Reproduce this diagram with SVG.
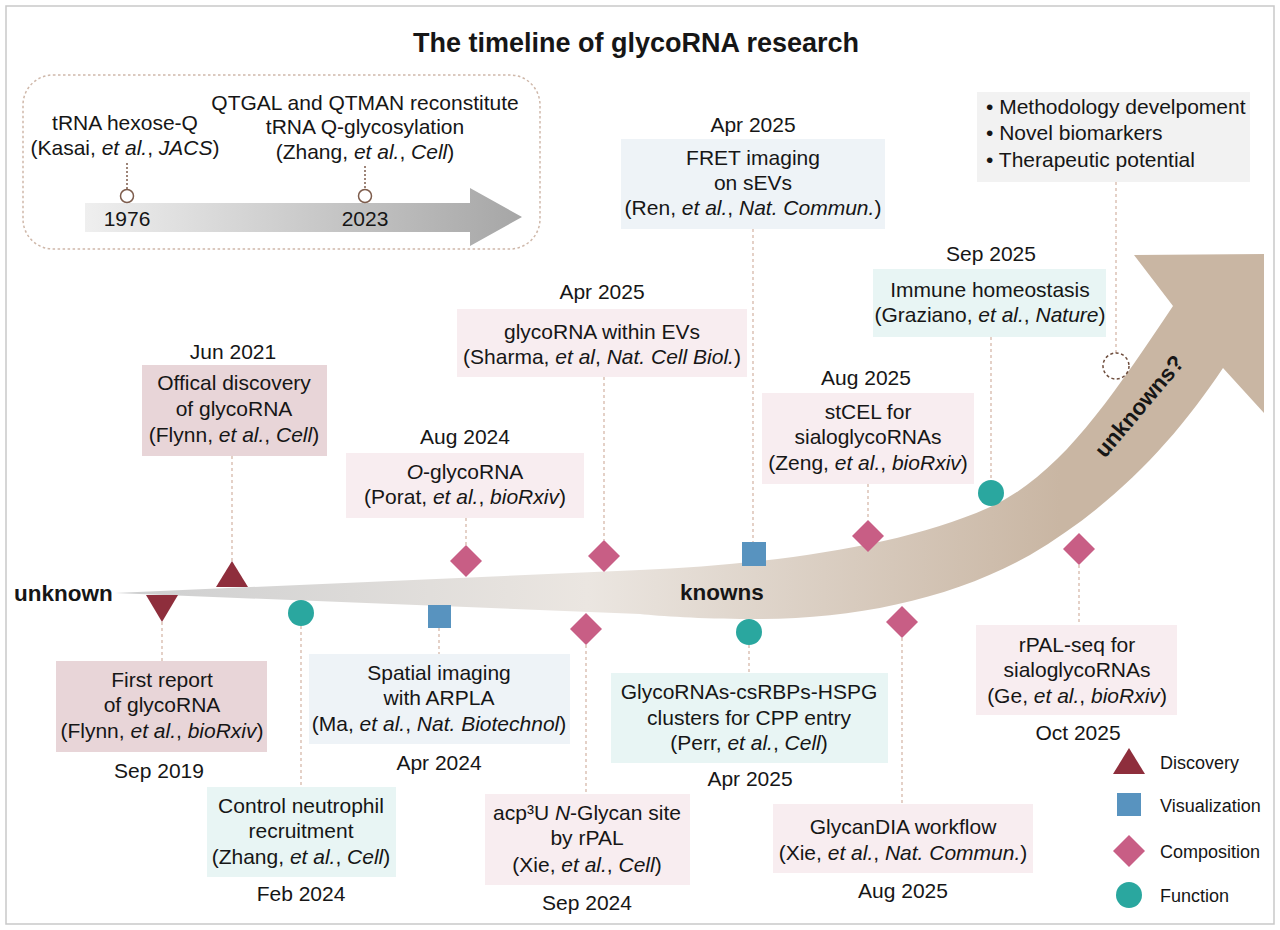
<svg xmlns="http://www.w3.org/2000/svg" width="1280" height="930" viewBox="0 0 1280 930">
<style>
.t{font-family:"Liberation Sans",Arial,sans-serif;font-size:21px;fill:#161616;text-anchor:middle}
.l{font-family:"Liberation Sans",Arial,sans-serif;font-size:21px;fill:#161616}
.lg{font-family:"Liberation Sans",Arial,sans-serif;font-size:18px;fill:#161616}
.b{font-weight:bold}
.i{font-style:italic}
.bx-d{fill:#e8d5d8}
.bx-c{fill:#f8edf0}
.bx-v{fill:#eef3f7}
.bx-f{fill:#e8f5f4}
.bx-g{fill:#f2f2f2}
.dash{stroke:#d6b8aa;stroke-width:1.3;stroke-dasharray:3 3;fill:none}
.dot{stroke:#7d5c4c;stroke-width:1.5;stroke-dasharray:2 2;fill:none}
.m-d{fill:#8e2e3c}
.m-v{fill:#5893bf}
.m-c{fill:#c85e85}
.m-f{fill:#2aa79f}
</style>
<defs>
<linearGradient id="gBig" gradientUnits="userSpaceOnUse" x1="115" y1="0" x2="1060" y2="0">
<stop offset="0" stop-color="#cdcecf"/>
<stop offset="0.5" stop-color="#ebe6e1"/>
<stop offset="1" stop-color="#c9b6a3"/>
</linearGradient>
<linearGradient id="gSmall" gradientUnits="userSpaceOnUse" x1="85" y1="0" x2="522" y2="0">
<stop offset="0" stop-color="#efefef"/>
<stop offset="1" stop-color="#a6a6a6"/>
</linearGradient>
</defs>
<rect x="6" y="6" width="1268" height="918" fill="#ffffff" stroke="#c9c9c9" stroke-width="1.5"/>
<text class="t b" x="636" y="52" style="font-size:27px">The timeline of glycoRNA research</text>

<g id="inset">
<rect x="23" y="75" width="517" height="174" rx="30" fill="none" stroke="#cfb8aa" stroke-width="1.5" stroke-dasharray="2.5 2.5"/>
<path d="M85,203 L470,203 L470,188 L522,217 L470,246 L470,232 L85,232 Z" fill="url(#gSmall)"/>
<g id="inset-1976">
<text class="t" x="125" y="130">tRNA hexose-Q</text>
<text class="t" x="125" y="155">(Kasai, <tspan class="i">et al.</tspan>, <tspan class="i">JACS</tspan>)</text>
<line class="dot" x1="127" y1="163" x2="127" y2="189"/>
<circle cx="127" cy="196" r="6.5" fill="#fff" stroke="#7d5c4c" stroke-width="1.5"/>
<text class="t" x="127" y="226">1976</text>
</g>
<g id="inset-2023">
<text class="t" x="365" y="110">QTGAL and QTMAN reconstitute</text>
<text class="t" x="365" y="134">tRNA Q-glycosylation</text>
<text class="t" x="365" y="159">(Zhang, <tspan class="i">et al.</tspan>, <tspan class="i">Cell</tspan>)</text>
<line class="dot" x1="365" y1="166" x2="365" y2="189"/>
<circle cx="365" cy="196" r="6.5" fill="#fff" stroke="#7d5c4c" stroke-width="1.5"/>
<text class="t" x="365" y="226">2023</text>
</g>
</g>

<g id="main-arrow">
<path d="M115,593 L640,570 C760,565 900,548 990,507 C1060,475 1110,400 1173,306 L1134,255 L1264,254 L1264,413 L1223,368 C1175,440 1115,505 1030,555 C950,600 850,620 750,619 C700,619 660,616 640,614 Z" fill="url(#gBig)"/>
<text class="l b" x="14" y="601" style="font-size:22.5px">unknown</text>
<text class="l b" x="680" y="600" style="font-size:22.5px">knowns</text>
<text class="t b" transform="translate(1139,406) rotate(-50)" x="0" y="8" style="font-size:22.5px">unknowns?</text>
</g>

<g id="connectors">
<line class="dash" x1="232" y1="456" x2="232" y2="561"/>
<line class="dash" x1="162" y1="622" x2="162" y2="661"/>
<line class="dash" x1="301" y1="626" x2="301" y2="787"/>
<line class="dash" x1="439" y1="628" x2="439" y2="654"/>
<line class="dash" x1="466" y1="518" x2="466" y2="545"/>
<line class="dash" x1="586" y1="645" x2="586" y2="794"/>
<line class="dash" x1="604" y1="377" x2="604" y2="540"/>
<line class="dash" x1="753" y1="229" x2="753" y2="542"/>
<line class="dash" x1="749" y1="645" x2="749" y2="673"/>
<line class="dash" x1="868" y1="484" x2="868" y2="520"/>
<line class="dash" x1="902" y1="638" x2="902" y2="804"/>
<line class="dash" x1="991" y1="337" x2="991" y2="480"/>
<line class="dash" x1="1079" y1="565" x2="1079" y2="625"/>
<line class="dash" x1="1116" y1="182" x2="1116" y2="353"/>
</g>

<g id="n-jun2021">
<text class="t" x="233" y="359">Jun 2021</text>
<rect class="bx-d" x="142" y="365" width="185" height="91"/>
<text class="t" x="234" y="390">Offical discovery</text>
<text class="t" x="234" y="416">of glycoRNA</text>
<text class="t" x="234" y="442">(Flynn, <tspan class="i">et al.</tspan>, <tspan class="i">Cell</tspan>)</text>
<polygon class="m-d" points="232,561 248,587 216,587"/>
</g>

<g id="n-sep2019">
<polygon class="m-d" points="146,595 178,595 162,622"/>
<rect class="bx-d" x="56" y="661" width="211" height="91"/>
<text class="t" x="162" y="687">First report</text>
<text class="t" x="162" y="712">of glycoRNA</text>
<text class="t" x="162" y="738">(Flynn, <tspan class="i">et al.</tspan>, <tspan class="i">bioRxiv</tspan>)</text>
<text class="t" x="159" y="778">Sep 2019</text>
</g>

<g id="n-feb2024">
<circle class="m-f" cx="301" cy="613" r="13"/>
<rect class="bx-f" x="207" y="787" width="189" height="90"/>
<text class="t" x="301" y="813">Control neutrophil</text>
<text class="t" x="301" y="838">recruitment</text>
<text class="t" x="301" y="864">(Zhang, <tspan class="i">et al.</tspan>, <tspan class="i">Cell</tspan>)</text>
<text class="t" x="301" y="901">Feb 2024</text>
</g>

<g id="n-apr2024">
<rect class="m-v" x="428" y="605" width="23" height="23"/>
<rect class="bx-v" x="309" y="654" width="261" height="90"/>
<text class="t" x="439" y="680">Spatial imaging</text>
<text class="t" x="439" y="705">with ARPLA</text>
<text class="t" x="439" y="731">(Ma, <tspan class="i">et al.</tspan>, <tspan class="i">Nat. Biotechnol</tspan>)</text>
<text class="t" x="439" y="770">Apr 2024</text>
</g>

<g id="n-aug2024">
<text class="t" x="465" y="444">Aug 2024</text>
<rect class="bx-c" x="346" y="453" width="238" height="65"/>
<text class="t" x="465" y="479"><tspan class="i">O</tspan>-glycoRNA</text>
<text class="t" x="465" y="504">(Porat, <tspan class="i">et al.</tspan>, <tspan class="i">bioRxiv</tspan>)</text>
<polygon class="m-c" points="466,545 482,561 466,577 450,561"/>
</g>

<g id="n-sep2024">
<polygon class="m-c" points="586,613 602,629 586,645 570,629"/>
<rect class="bx-c" x="485" y="794" width="205" height="91"/>
<text class="t" x="587" y="820">acp³U <tspan class="i">N</tspan>-Glycan site</text>
<text class="t" x="587" y="845">by rPAL</text>
<text class="t" x="587" y="872">(Xie, <tspan class="i">et al.</tspan>, <tspan class="i">Cell</tspan>)</text>
<text class="t" x="587" y="910">Sep 2024</text>
</g>

<g id="n-apr2025-evs">
<text class="t" x="602" y="299">Apr 2025</text>
<rect class="bx-c" x="457" y="309" width="290" height="68"/>
<text class="t" x="602" y="339">glycoRNA within EVs</text>
<text class="t" x="602" y="364">(Sharma, <tspan class="i">et al</tspan>, <tspan class="i">Nat. Cell Biol.</tspan>)</text>
<polygon class="m-c" points="604,540 620,556 604,572 588,556"/>
</g>

<g id="n-apr2025-fret">
<text class="t" x="753" y="132">Apr 2025</text>
<rect class="bx-v" x="621" y="139" width="264" height="90"/>
<text class="t" x="753" y="165">FRET imaging</text>
<text class="t" x="753" y="190">on sEVs</text>
<text class="t" x="753" y="215">(Ren, <tspan class="i">et al.</tspan>, <tspan class="i">Nat. Commun.</tspan>)</text>
<rect class="m-v" x="742" y="542" width="24" height="24"/>
</g>

<g id="n-apr2025-perr">
<circle class="m-f" cx="749" cy="632" r="13"/>
<rect class="bx-f" x="611" y="673" width="277" height="90"/>
<text class="t" x="749" y="699">GlycoRNAs-csRBPs-HSPG</text>
<text class="t" x="749" y="725">clusters for CPP entry</text>
<text class="t" x="749" y="750">(Perr, <tspan class="i">et al.</tspan>, <tspan class="i">Cell</tspan>)</text>
<text class="t" x="750" y="786">Apr 2025</text>
</g>

<g id="n-aug2025-stcel">
<text class="t" x="866" y="385">Aug 2025</text>
<rect class="bx-c" x="762" y="393" width="212" height="91"/>
<text class="t" x="868" y="419">stCEL for</text>
<text class="t" x="868" y="444">sialoglycoRNAs</text>
<text class="t" x="868" y="470">(Zeng, <tspan class="i">et al.</tspan>, <tspan class="i">bioRxiv</tspan>)</text>
<polygon class="m-c" points="868,520 884,536 868,552 852,536"/>
</g>

<g id="n-aug2025-glycandia">
<polygon class="m-c" points="902,606 918,622 902,638 886,622"/>
<rect class="bx-c" x="773" y="804" width="260" height="69"/>
<text class="t" x="903" y="834">GlycanDIA workflow</text>
<text class="t" x="903" y="860">(Xie, <tspan class="i">et al.</tspan>, <tspan class="i">Nat. Commun.</tspan>)</text>
<text class="t" x="903" y="898">Aug 2025</text>
</g>

<g id="n-sep2025">
<text class="t" x="991" y="261">Sep 2025</text>
<rect class="bx-f" x="873" y="269" width="233" height="68"/>
<text class="t" x="990" y="297">Immune homeostasis</text>
<text class="t" x="990" y="322">(Graziano, <tspan class="i">et al.</tspan>, <tspan class="i">Nature</tspan>)</text>
<circle class="m-f" cx="991" cy="493" r="13"/>
</g>

<g id="n-oct2025">
<polygon class="m-c" points="1079,533 1095,549 1079,565 1063,549"/>
<rect class="bx-c" x="976" y="625" width="201" height="90"/>
<text class="t" x="1077" y="652">rPAL-seq for</text>
<text class="t" x="1077" y="677">sialoglycoRNAs</text>
<text class="t" x="1077" y="703">(Ge, <tspan class="i">et al.</tspan>, <tspan class="i">bioRxiv</tspan>)</text>
<text class="t" x="1078" y="740">Oct 2025</text>
</g>

<g id="n-future">
<rect class="bx-g" x="977" y="92" width="273" height="90"/>
<text class="l" x="986" y="114">• Methodology develpoment</text>
<text class="l" x="986" y="140">• Novel biomarkers</text>
<text class="l" x="986" y="167">• Therapeutic potential</text>
<circle cx="1116" cy="366" r="13" fill="#fff" stroke="#6e4d3d" stroke-width="1.5" stroke-dasharray="3 2.5"/>
</g>

<g id="legend">
<polygon class="m-d" points="1129,748 1145,774 1113,774"/>
<text class="lg" x="1160" y="769">Discovery</text>
<rect class="m-v" x="1117" y="793" width="24" height="23"/>
<text class="lg" x="1160" y="812">Visualization</text>
<polygon class="m-c" points="1129,835 1145,851 1129,867 1113,851"/>
<text class="lg" x="1160" y="858">Composition</text>
<circle class="m-f" cx="1129" cy="895" r="13"/>
<text class="lg" x="1160" y="902">Function</text>
</g>
</svg>
